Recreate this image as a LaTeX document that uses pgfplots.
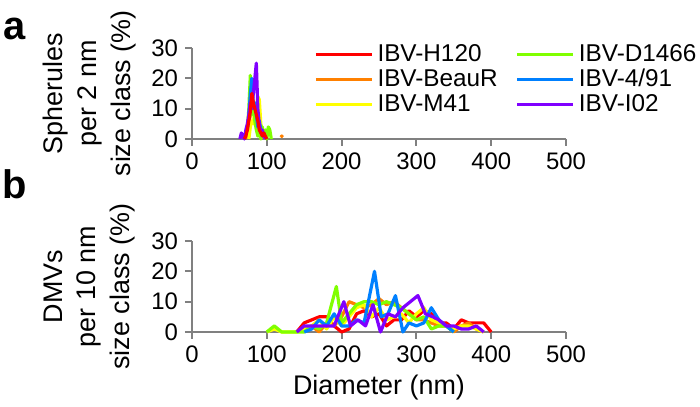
\documentclass[border=0pt]{standalone}
\usepackage{fontspec}
\setmainfont{Liberation Sans}
\usepackage{pgfplots}
\pgfplotsset{compat=1.18}

\definecolor{axisgray}{HTML}{808080}
\definecolor{cRed}{HTML}{FF0000}
\definecolor{cOrange}{HTML}{FF8000}
\definecolor{cYellow}{HTML}{FFFF00}
\definecolor{cGreen}{HTML}{80FF00}
\definecolor{cBlue}{HTML}{0080FF}
\definecolor{cPurple}{HTML}{8000FF}

\pgfplotsset{
  panel/.style={
    scale only axis, width=187bp, height=45.5bp,
    xmin=0, xmax=500, ymin=0, ymax=30,
    axis lines=left,
    axis line style={-, axisgray, line width=1bp},
    tick align=outside, major tick length=3.5bp,
    tick style={axisgray, line width=1bp},
    xtick={0,100,200,300,400,500}, ytick={0,10,20,30},
    ticklabel style={font=\fontsize{12}{13}\selectfont, black},
    /pgf/number format/assume math mode=true,
    ylabel style={font=\fontsize{13.5}{17}\selectfont, align=center,
      at={(axis description cs:-0.274,0.5)}, anchor=center},
    xlabel style={font=\fontsize{13.5}{15}\selectfont, yshift=1bp},
    clip=false,
    every axis plot/.append style={line width=1.6bp, mark=none, line join=round},
  }
}

\begin{document}
\begin{tikzpicture}
\useasboundingbox (0,0) rectangle (350bp,203.5bp);

% panel a
\begin{axis}[panel, at={(96bp,134bp)},
  ylabel={Spherules\\per 2 nm\\size class (\%)},
  legend columns=2, legend cell align=left,
  legend style={draw=none, fill=none, font=\fontsize{12.2}{13}\selectfont,
    at={(axis description cs:0.31,1.13)}, anchor=north west,
    row sep=-1.6bp, column sep=0bp},
  legend image code/.code={\draw[line width=1.6bp] (0bp,0bp) -- (21.5bp,0bp);
    \path (21.5bp,0bp) -- (28bp,0bp);},
]
\addlegendimage{cRed}\addlegendentry{IBV-H120\rule{7bp}{0bp}}
\addlegendimage{cGreen}\addlegendentry{IBV-D1466}
\addlegendimage{cOrange}\addlegendentry{IBV-BeauR\rule{7bp}{0bp}}
\addlegendimage{cBlue}\addlegendentry{IBV-4/91}
\addlegendimage{cYellow}\addlegendentry{IBV-M41\rule{7bp}{0bp}}
\addlegendimage{cPurple}\addlegendentry{IBV-I02}

\addplot[cOrange, forget plot] coordinates {
  (72,0) (74,2) (76,5) (78,8) (80,10) (82,12) (84,7) (86,5) (88,3) (90,2) (92,1) (94,0)};
\addplot[cOrange, forget plot] coordinates {(119,0.6) (120,1) (121,0.6)};
\addplot[cYellow, forget plot] coordinates {
  (76,0) (78,4) (80,6) (82,5) (84,10) (86,8) (88,14) (90,13) (92,5) (94,3) (96,1) (98,0)};
\addplot[cGreen, forget plot] coordinates {
  (70,0) (72,2) (74,3) (76,10) (78,21) (80,8) (82,12) (84,6) (86,3) (88,1) (90,2) (92,0)
  (94,4) (96,1) (98,3) (100,0) (102,4) (104,3) (106,0)};
\addplot[cBlue, forget plot] coordinates {
  (70,0) (72,2) (74,3) (76,8) (78,15) (80,20) (82,10) (84,12) (86,8) (88,4) (90,6) (92,3)
  (94,1) (96,2) (98,0)};
\addplot[cPurple, forget plot] coordinates {
  (64,0) (66,2) (68,1) (70,0) (72,3) (74,5) (76,8) (78,12) (80,10) (82,15) (84,20) (86,25)
  (88,10) (90,5) (92,2) (94,3) (96,1) (98,0)};
\addplot[cRed, forget plot] coordinates {
  (70,0) (72,1) (74,3) (76,6) (78,9) (80,15) (82,12) (84,10) (86,8) (88,6) (90,3) (92,2)
  (94,1) (96,2) (98,1) (100,0)};
\end{axis}
\node[font=\fontsize{20}{20}\selectfont\bfseries] at (7.5bp,189bp) {a};

% panel b
\begin{axis}[panel, at={(96bp,37.5bp)},
  ylabel={DMVs\\per 10 nm\\size class (\%)},
  xlabel={Diameter (nm)},
]
\addplot[cRed] coordinates {
  (140,0) (150,3) (160,4) (170,5) (180,5) (190,2) (200,0) (210,1) (220,6) (230,7) (240,5)
  (250,6) (260,2) (270,4) (280,4) (290,7) (300,5) (310,7) (320,6) (330,3) (340,3) (350,1)
  (360,4) (370,3) (380,3) (390,3) (400,0)};
\addplot[cOrange] coordinates {
  (150,0) (160,2) (170,0) (180,3) (190,2) (200,5) (210,10) (220,9) (230,8) (240,9) (250,11)
  (260,9) (270,10) (280,8) (290,6) (300,4) (310,4) (320,3) (330,2) (340,2) (350,0) (360,2)
  (370,3) (380,1) (390,0)};
\addplot[cYellow] coordinates {
  (100,0) (110,1) (120,0) (130,0) (140,0) (150,1) (160,2) (170,4) (180,1) (190,5) (200,2)
  (210,5) (220,8) (230,9) (240,5) (250,8) (260,4) (270,5) (280,6) (290,3) (300,6) (310,8)
  (320,4) (330,3) (340,2) (350,1) (360,2) (370,2) (380,1) (390,0)};
\addplot[cGreen] coordinates {
  (100,0) (110,2) (120,0) (130,0) (140,0) (150,0) (160,2) (170,1) (180,3) (193,15) (200,3)
  (210,6) (220,9) (230,10) (240,10) (250,9) (260,10) (270,9) (280,8) (290,6) (300,4)
  (310,5) (320,1) (330,2) (340,2) (350,0)};
\addplot[cBlue] coordinates {
  (150,0) (160,1) (170,4) (180,2) (190,6) (200,2) (210,2) (220,4) (230,3) (244,20) (253,5)
  (262,6) (272,12) (282,0) (290,3) (300,2) (310,3) (320,8) (330,4) (340,2) (350,0)};
\addplot[cPurple] coordinates {
  (140,0) (150,2) (160,2) (170,2) (180,2) (190,2) (203,10) (212,2) (222,4) (232,2) (242,9)
  (252,0) (262,6) (272,5) (282,8) (292,10) (302,12) (312,6) (322,5) (330,4) (340,2) (350,2)
  (360,1) (370,1) (380,2) (390,0)};
\end{axis}
\node[font=\fontsize{20}{20}\selectfont\bfseries] at (7.5bp,111.5bp) {b};
\end{tikzpicture}
\end{document}
